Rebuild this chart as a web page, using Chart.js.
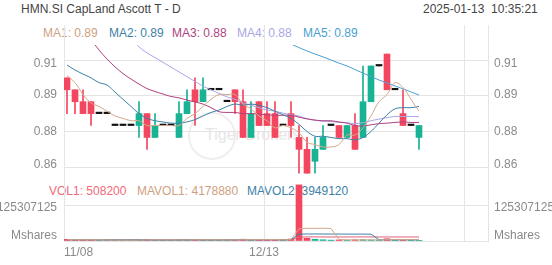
<!DOCTYPE html>
<html><head><meta charset="utf-8">
<script src="https://cdn.jsdelivr.net/npm/chart.js@4/dist/chart.umd.min.js"></script>
<style>
body{margin:0;width:552px;height:265px;overflow:hidden;background:#fff;font-family:"Liberation Sans",Arial,sans-serif;position:relative;}
.t{position:absolute;font-size:12px;white-space:pre;line-height:12px;}
canvas{position:absolute;left:0;}
#wm{position:absolute;left:205px;top:126px;font-size:16px;color:#e6e6e6;white-space:pre;}
#wmc{position:absolute;left:188px;top:112px;width:44px;height:44px;border:2px solid #eeeeee;border-radius:50%;}
</style></head><body>
<div id="wmc"></div><div id="wm">Tiger Brokers</div>
<div class="t" style="left:21px;top:3px;color:#444">HMN.SI CapLand Ascott T - D</div>
<div class="t" style="left:423px;top:3px;color:#444">2025-01-13  10:35:21</div>
<div class="t" style="left:43px;top:27px;color:#cf9f82">MA1: 0.89</div>
<div class="t" style="left:109px;top:27px;color:#3d82a6">MA2: 0.89</div>
<div class="t" style="left:172px;top:27px;color:#b0437f">MA3: 0.88</div>
<div class="t" style="left:237px;top:27px;color:#a9a6e4">MA4: 0.88</div>
<div class="t" style="left:303px;top:27px;color:#4aa0d0">MA5: 0.89</div>
<div class="t" style="left:49px;top:185px;color:#f06a78">VOL1: 508200</div>
<div class="t" style="left:137px;top:185px;color:#cf9f82">MAVOL1: 4178880</div>
<div class="t" style="left:247px;top:185px;color:#3d82a6">MAVOL2: 3949120</div>
<canvas id="cp" width="552" height="155" style="top:25px"></canvas>
<canvas id="cv" width="552" height="85" style="top:180px"></canvas>
<script>
const dates = ['11/08','11/11','11/12','11/13','11/14','11/15','11/18','11/19','11/20','11/21','11/22','11/25','11/26','11/27','11/28','11/29','12/02','12/03','12/04','12/05','12/06','12/09','12/10','12/11','12/12','12/13','12/16','12/17','12/18','12/19','12/20','12/23','12/24','12/26','12/27','12/30','12/31','01/02','01/03','01/06','01/07','01/08','01/09','01/10','01/13'];
const opens  = [0.900,0.895,0.890,0.890,0.885,0.885,0.880,0.880,0.880,0.880,0.885,0.875,0.880,0.880,0.875,0.885,0.895,0.890,0.895,0.895,0.890,0.895,0.890,0.875,0.890,0.885,0.885,0.880,0.885,0.875,0.870,0.865,0.870,0.880,0.880,0.875,0.880,0.875,0.890,0.905,0.910,0.895,0.885,0.880,0.875];
const highs  = [0.900,0.895,0.895,0.890,0.885,0.885,0.880,0.880,0.880,0.890,0.885,0.885,0.880,0.880,0.890,0.895,0.900,0.900,0.895,0.895,0.890,0.895,0.895,0.890,0.890,0.890,0.890,0.880,0.890,0.880,0.875,0.875,0.880,0.880,0.880,0.880,0.885,0.905,0.905,0.905,0.910,0.895,0.895,0.880,0.880];
const lows   = [0.885,0.885,0.885,0.880,0.885,0.885,0.880,0.880,0.880,0.875,0.870,0.875,0.880,0.880,0.875,0.885,0.880,0.890,0.895,0.895,0.890,0.885,0.875,0.875,0.880,0.880,0.875,0.880,0.875,0.860,0.860,0.860,0.870,0.880,0.875,0.875,0.870,0.875,0.890,0.905,0.895,0.895,0.880,0.880,0.870];
const closes = [0.895,0.890,0.885,0.885,0.885,0.885,0.880,0.880,0.880,0.885,0.875,0.880,0.880,0.880,0.885,0.890,0.890,0.895,0.895,0.895,0.890,0.890,0.875,0.885,0.880,0.880,0.875,0.880,0.880,0.870,0.860,0.870,0.875,0.880,0.875,0.880,0.870,0.890,0.905,0.905,0.895,0.895,0.880,0.880,0.880];
const ma1 = [0.901,0.898,0.893,0.8895,0.888,0.886,0.884,0.883,0.882,0.882,0.880,0.880,0.880,0.880,0.880,0.883,0.885,0.888,0.891,0.893,0.893,0.893,0.889,0.887,0.884,0.882,0.879,0.880,0.879,0.877,0.873,0.872,0.871,0.871,0.872,0.876,0.876,0.879,0.884,0.890,0.893,0.898,0.896,0.891,0.886];
const ma2 = [0.9054,0.9033,0.9016,0.900,0.898,0.897,0.894,0.891,0.888,0.885,0.883,0.882,0.8815,0.881,0.881,0.8815,0.8825,0.884,0.8855,0.8865,0.888,0.889,0.8885,0.889,0.8885,0.8875,0.886,0.8845,0.883,0.8805,0.8775,0.8755,0.8755,0.875,0.8745,0.8745,0.874,0.875,0.8775,0.881,0.8845,0.887,0.8875,0.8875,0.888];
const ma3 = [0.926,0.9225,0.919,0.9159,0.9117,0.9079,0.9046,0.9018,0.8995,0.8974,0.8955,0.8943,0.8932,0.8922,0.8916,0.8907,0.8899,0.889,0.8875,0.8858,0.8855,0.8855,0.885,0.885,0.8848,0.8845,0.8843,0.8843,0.8843,0.8835,0.8828,0.8823,0.882,0.882,0.8815,0.881,0.880,0.8798,0.8803,0.8808,0.881,0.8813,0.8815,0.8813,0.8813];
const ma4 = [null,null,null,null,null,null,null,0.920,0.9165,0.913,0.9105,0.9085,0.9065,0.9045,0.9025,0.9005,0.8985,0.8965,0.895,0.8935,0.892,0.891,0.8895,0.8885,0.8875,0.8865,0.886,0.8852,0.8845,0.884,0.8828,0.8822,0.8818,0.8817,0.8813,0.8812,0.8808,0.8812,0.882,0.8827,0.8833,0.8838,0.8838,0.8838,0.8837];
const ma5 = [null,null,null,null,null,null,null,null,null,null,null,null,null,null,null,null,null,null,null,null,null,null,null,null,null,null,null,0.9157,0.9142,0.9127,0.9113,0.910,0.9088,0.9075,0.9062,0.905,0.9035,0.902,0.9006,0.8991,0.8979,0.8966,0.8954,0.8941,0.8928];
const volumes = [5800000,4600000,3900000,4400000,2100000,2600000,3300000,2900000,3500000,4200000,5100000,3800000,2700000,3100000,4600000,5300000,4800000,3900000,2800000,3400000,4000000,4700000,6200000,4400000,3900000,4100000,5600000,3200000,6800000,195300000,9400000,6100000,4300000,3000000,3700000,3210500,4105300,4483900,3602100,3195000,7820400,4215600,5104800,3245400,508200];
const mavol1 = [4300000,4400000,4250000,4200000,4160000,3520000,3260000,3060000,2880000,3300000,3800000,3900000,3860000,3780000,3860000,3900000,4100000,4340000,4280000,4040000,3780000,3760000,4220000,4540000,4640000,4660000,4840000,4240000,4720000,43000000,44060000,44160000,44380000,43620000,5300000,4063100,3663060,3699840,3820260,3719360,4641340,4663780,4787580,4716260,4178880];
const mavol2 = [4200000,4250000,4200000,4150000,4100000,4050000,3950000,3850000,3800000,3730000,3660000,3580000,3460000,3330000,3580000,3850000,4000000,4100000,4030000,3950000,3840000,3930000,4280000,4410000,4340000,4220000,4300000,4230000,4630000,23820000,24360000,24500000,24310000,24170000,24150000,24061050,23911580,24039970,23720180,4509680,4351720,4163280,4243760,4268300,3949120];
const mavol3 = [4100000,4100000,4000000,4000000,4000000,3900000,3900000,3800000,3800000,3800000,3800000,3800000,3700000,3700000,3700000,3700000,3700000,3700000,3700000,3800000,3800000,3800000,3900000,3900000,3900000,4000000,4100000,4100000,4200000,13800000,14100000,14200000,14100000,14000000,14000000,14000000,14100000,14200000,14100000,14000000,14100000,14000000,14000000,14000000,13800000];
const priceTicks = [0.8625,0.8775,0.8925,0.9075];
const priceTickLabels = ['0.86','0.88','0.89','0.91'];
const volTicks = [0,125307125];
const volTickLabels = ['Mshares','125307125'];
const xTickSlots = [0,25,50];
const xTickLabels = ['11/08','12/13',''];

const UP='#17b393', DOWN='#f4465f', FLAT='#111111';
const FONT={family:'"Liberation Sans", Arial, sans-serif',size:12};
const GRID='#e4e4e4', TXT='#8a8a8a';
const candleColor = i => closes[i]>opens[i]?UP:(closes[i]<opens[i]?DOWN:FLAT);
const volColor = i => closes[i]>opens[i]?UP:(closes[i]<opens[i]?DOWN:UP);

function xScale(show){
  return {type:'linear',min:-0.375,max:52.625,offset:false,
    grid:{offset:false,color:GRID,drawTicks:false},border:{display:false},
    afterBuildTicks:s=>{s.ticks=xTickSlots.map(v=>({value:v-0.375}));},
    ticks:{display:show,autoSkip:false,maxRotation:0,align:'inner',padding:4,color:TXT,font:FONT,callback:(v,i)=>xTickLabels[i]},
    afterFit:s=>{s.height=show?24:0;s.paddingLeft=0;s.paddingRight=0;}};
}
function yScale(pos,min,max,ticks,labels,grid){
  return {type:'linear',position:pos,min:min,max:max,
    grid:{display:grid,color:GRID,drawTicks:false},
    border:{display:true,color:GRID},
    afterBuildTicks:s=>{s.ticks=ticks.map(v=>({value:v}));},
    ticks:{autoSkip:false,padding:pos==='left'?7:6,color:TXT,font:FONT,callback:(v,i)=>labels[i]},
    afterFit:s=>{s.width=64;s.paddingTop=0;s.paddingBottom=0;}};
}
// per-tick vertical nudge of axis labels (pixels)
const nudge = shifts => ({id:'nudge',beforeDraw(chart){
  ['y','y2'].forEach(ax=>{const items=chart.scales[ax].getLabelItems();
    items.forEach((it,i)=>{ if(!it._n){ it.options.translation[1]+=shifts[i]||0; it._n=1; } });});
}});
const idx = dates.map((d,i)=>i);
const CLIP={left:0,top:-20,right:0,bottom:0};
const line=(arr,color)=>({type:'line',data:idx.map(i=>({x:i,y:arr[i]})),borderColor:color,borderWidth:1,pointRadius:0,tension:0.35,order:1,yAxisID:'y',clip:CLIP});
const lineV=(arr,color)=>({type:'line',data:idx.map(i=>({x:i,y:arr[i]})),borderColor:color,borderWidth:1,pointRadius:0,tension:0,order:1,yAxisID:'y'});
const common={responsive:false,animation:false,devicePixelRatio:1,events:[],layout:{padding:0},plugins:{legend:{display:false},tooltip:{enabled:false}}};

const pMin=0.85714, pMax=0.92219;
new Chart(document.getElementById('cp'),{
  type:'bar',
  data:{datasets:[
    {data:idx.map(i=>({x:i,y:[lows[i],highs[i]]})),backgroundColor:idx.map(candleColor),barThickness:1,grouped:false,order:3,yAxisID:'y',clip:CLIP},
    {data:idx.map(i=>({x:i,y:[opens[i],closes[i]]})),backgroundColor:idx.map(candleColor),barThickness:6,minBarLength:1.5,grouped:false,order:2,yAxisID:'y',clip:CLIP},
    line(ma1,'#d4a88a'),line(ma2,'#3d82a6'),line(ma3,'#b0437f'),line(ma4,'#aaa7e6'),line(ma5,'#4aa0d0')
  ]},
  options:Object.assign({},common,{scales:{
    x:xScale(false),
    y:yScale('left',pMin,pMax,priceTicks,priceTickLabels,true),
    y2:yScale('right',pMin,pMax,priceTicks,priceTickLabels,false)
  }}),
  plugins:[nudge([-3,0,-1,3.5])]
});
const vMax=212326684;
new Chart(document.getElementById('cv'),{
  type:'bar',
  data:{datasets:[
    {data:idx.map(i=>({x:i,y:volumes[i]})),backgroundColor:idx.map(volColor),barThickness:6,grouped:false,order:2,yAxisID:'y'},
    lineV(mavol1,'#d4a88a'),lineV(mavol2,'#3d82a6'),lineV(mavol3,'#e0607a')
  ]},
  options:Object.assign({},common,{scales:{
    x:xScale(true),
    y:yScale('left',0,vMax,volTicks,volTickLabels,true),
    y2:yScale('right',0,vMax,volTicks,volTickLabels,false)
  }}),
  plugins:[nudge([-5.5,2.5])]
});
</script>
</body></html>
